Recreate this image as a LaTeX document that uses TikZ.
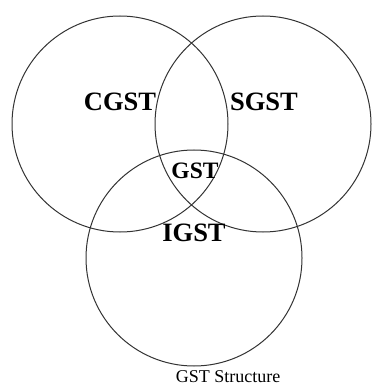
\documentclass[tikz,border=0pt]{standalone}
\usepackage{fontspec}
\setmainfont{Liberation Serif}
\usepackage{tikz}
\usetikzlibrary{positioning}
\definecolor{RingGray}{HTML}{333333}

\begin{document}
\begin{tikzpicture}[x=1pt, y=-1pt,
  ring/.style={draw=RingGray, line width=1pt, circle, inner sep=0pt, minimum size=216pt},
  tax/.style={font=\bfseries\fontsize{26.5}{26.5}\selectfont, inner sep=0pt}]
\useasboundingbox (0,0) rectangle (371,387);
\node[ring] (cgstring) at (120,124) {};
\node[ring] (sgstring) at (263,124) {};
\node[ring] (igstring) at (194,258) {};
\node[tax] (cgst) at (120,102) {CGST};
\node[tax] (sgst) at (264,102) {SGST};
\node[tax, font=\bfseries\fontsize{23.5}{23.5}\selectfont] (gst) at (195,171) {GST};
\node[tax] (igst) at (194,233) {IGST};
\node[font=\fontsize{18}{18}\selectfont, inner sep=0pt] (caption) at (228,377) {GST Structure};
\end{tikzpicture}
\end{document}
